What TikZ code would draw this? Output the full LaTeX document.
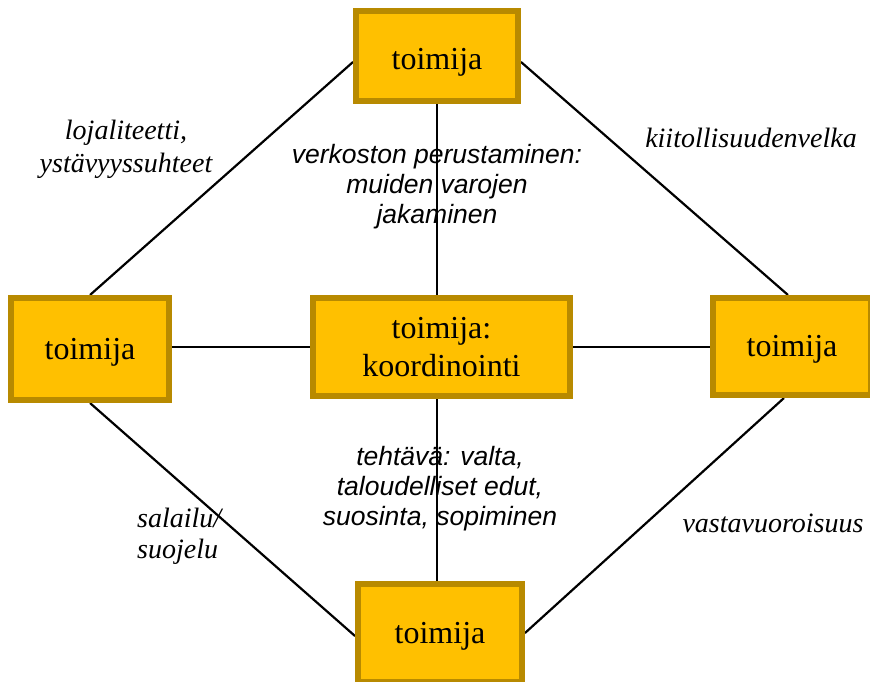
\documentclass[tikz,border=0pt]{standalone}
\usepackage{fontspec}
\setmainfont{Liberation Serif}
\newfontfamily\labsans{Liberation Sans}
\usetikzlibrary{calc}
\definecolor{boxfill}{RGB}{255,192,0}
\definecolor{boxline}{RGB}{184,138,0}
\begin{document}
\begin{tikzpicture}[x=1pt,y=-1pt,
  actor/.style={draw=boxline, fill=boxfill, line width=6pt, inner sep=0pt, align=center,
    font=\fontsize{32}{38}\selectfont, text height=24pt, text depth=4pt},
  hub/.style={draw=boxline, fill=boxfill, line width=6pt, inner sep=0pt, align=center,
    font=\fontsize{32}{38}\selectfont},
  link/.style={line width=2.2pt, draw=black},
  serlab/.style={font=\itshape\fontsize{28}{33}\selectfont, inner sep=0pt},
  sanslab/.style={font=\labsans\itshape\fontsize{26.5}{30}\selectfont, align=center, inner sep=0pt}]
\useasboundingbox (0,0) rectangle (870,682);
\clip (0,0) rectangle (870,682);
% boxes (placed first for anchors)
\path
  node[actor, minimum width=162pt, minimum height=90pt, text height=28pt, text depth=0pt] (top) at (437,56) {toimija}
  node[actor, minimum width=158pt, minimum height=102pt] (left) at (90,349) {toimija}
  node[hub, minimum width=257pt, minimum height=98pt] (center) at (441.5,347) {toimija:\\koordinointi}
  node[actor, minimum width=158pt, minimum height=97pt] (right) at (792,346.5) {toimija}
  node[actor, minimum width=164pt, minimum height=98pt] (bottom) at (440,633) {toimija};
% connectors
\draw[link] ($(top.west)+(0,6)$) -- (left.north);
\draw[link] ($(top.east)+(0,6)$) -- ($(right.north)+(-4,0)$);
\draw[link] (left.south) -- ($(bottom.west)+(0,3)$);
\draw[link] ($(right.south)+(-8,0)$) -- (bottom.east);
\draw[link] (top.south) -- (top.south |- center.north);
\draw[link] (center.south -| top.south) -- (top.south |- bottom.north);
\draw[link] (center.west -| left.east) -- (center.west);
\draw[link] (center.east) -- (center.east -| right.west);
% redraw boxes on top of connectors
\path
  node[actor, minimum width=162pt, minimum height=90pt, text height=28pt, text depth=0pt] at (top) {toimija}
  node[actor, minimum width=158pt, minimum height=102pt] at (left) {toimija}
  node[hub, minimum width=257pt, minimum height=98pt] at (center) {toimija:\\koordinointi}
  node[actor, minimum width=158pt, minimum height=97pt] at (right) {toimija}
  node[actor, minimum width=164pt, minimum height=98pt] at (bottom) {toimija};
% labels
\node[serlab, align=center] (l1) at (126,149) {lojaliteetti,\\ystävyyssuhteet};
\node[serlab, anchor=base] (l2) at (751,147) {kiitollisuudenvelka};
\node[serlab, align=left, anchor=west, font=\itshape\fontsize{28}{31}\selectfont] (l3) at (137,536) {salailu/\\suojelu};
\node[serlab, anchor=base] (l4) at (773,532) {vastavuoroisuus};
\node[sanslab] (l5) at (437,187) {verkoston perustaminen:\\muiden varojen\\jakaminen};
\node[sanslab] (l6) at (440,489) {tehtävä: valta,\\taloudelliset edut,\\suosinta, sopiminen};
\end{tikzpicture}
\end{document}
